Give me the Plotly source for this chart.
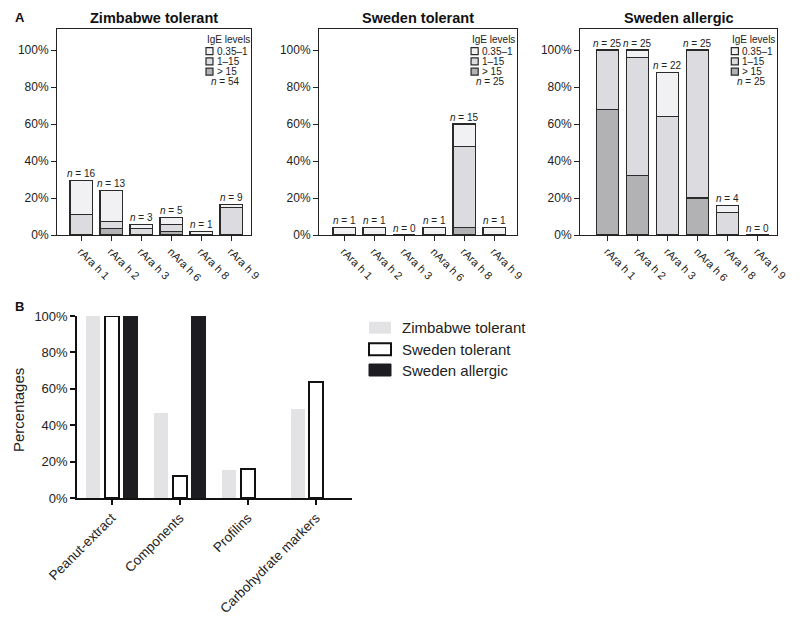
import plotly.graph_objects as go

FONT = "Arial, Liberation Sans, sans-serif"

# ---------------- Panel A data (percent of subjects) ----------------
allergens = ["rAra h 1", "rAra h 2", "rAra h 3", "nAra h 6", "rAra h 8", "rAra h 9"]
ige_levels = ["0.35–1", "1–15", "> 15"]

zim_high = [0, 3.7, 0, 1.9, 0, 0]
zim_mid = [11.1, 3.7, 3.7, 3.7, 0, 14.8]
zim_low = [18.5, 16.7, 1.9, 3.7, 1.9, 1.9]
zim_n = [16, 13, 3, 5, 1, 9]
zim_total_n = 54

swt_high = [0, 0, 0, 0, 4, 0]
swt_mid = [0, 0, 0, 0, 44, 0]
swt_low = [4, 4, 0, 4, 12, 4]
swt_n = [1, 1, 0, 1, 15, 1]
swt_total_n = 25

swa_high = [68, 32, 0, 20, 0, 0]
swa_mid = [32, 64, 64, 80, 12, 0]
swa_low = [0, 4, 24, 0, 4, 0]
swa_n = [25, 25, 22, 25, 4, 0]
swa_total_n = 25

pct_ticks = [0, 20, 40, 60, 80, 100]
pct_labels = ["0%", "20%", "40%", "60%", "80%", "100%"]

# ---------------- Panel B data ----------------
groups_b = ["Peanut-extract", "Components", "Profilins", "Carbohydrate markers"]
b_zim = [100, 46.5, 15.5, 49]
b_swt = [100, 12, 16, 64]
b_swa = [100, 100, 0, 0]
series_b = ["Zimbabwe tolerant", "Sweden tolerant", "Sweden allergic"]

# ---------------- styles ----------------
C_LOW = "#f1f1f3"
C_MID = "#dcdce0"
C_HIGH = "#b2b2b5"
EDGE = "#2a2a2a"

W, H = 800, 624

def px_x(a, b):
    return [a / W, b / W]

def px_y(top, bottom):
    return [1 - bottom / H, 1 - top / H]

panels = [
    ("Zimbabwe tolerant", zim_high, zim_mid, zim_low, zim_n, zim_total_n, px_x(57, 251), 24, 194),
    ("Sweden tolerant", swt_high, swt_mid, swt_low, swt_n, swt_total_n, px_x(319, 517), 25, 198),
    ("Sweden allergic", swa_high, swa_mid, swa_low, swa_n, swa_total_n, px_x(580, 777), 27.5, 197),
]

fig = go.Figure()
annotations = []
shapes = []
layout = {}

def txt(**kw):
    kw.setdefault("showarrow", False)
    kw.setdefault("xanchor", "center")
    kw.setdefault("yanchor", "middle")
    return kw

ydomA = px_y(29, 235)
for i, (title, hi, mid, lo, ns, ntot, xdom, lead, width) in enumerate(panels):
    k = "" if i == 0 else str(i + 1)
    xa, ya = "x" + k, "y" + k
    for vals, col in [(hi, C_HIGH), (mid, C_MID), (lo, C_LOW)]:
        fig.add_trace(go.Bar(
            x=allergens, y=vals, xaxis=xa, yaxis=ya, width=0.74,
            marker=dict(color=col, line=dict(color=EDGE, width=1.2)),
            showlegend=False, hoverinfo="skip"))
    # n labels above stacks
    for cat, a, b, c, n in zip(allergens, hi, mid, lo, ns):
        annotations.append(txt(
            x=cat, y=a + b + c, xref=xa, yref=ya, yshift=7,
            text=f"<i>n</i> = {n}", font=dict(size=10, color="#222", family=FONT)))
    unit = 30.0
    layout["xaxis" + k] = dict(
        domain=xdom, anchor=ya, type="category", automargin=False,
        range=[-lead / unit, -lead / unit + width / unit],
        showline=True, mirror=True, linecolor="#222", linewidth=1,
        ticks="outside", ticklen=5, tickcolor="#222", tickangle=45,
        tickfont=dict(size=11, color="#222", family=FONT), showgrid=False, zeroline=False)
    layout["yaxis" + k] = dict(
        domain=ydomA, anchor=xa, range=[0, 111.4], automargin=False,
        tickvals=pct_ticks, ticktext=pct_labels,
        showline=True, mirror=True, linecolor="#222", linewidth=1,
        ticks="outside", ticklen=5, tickcolor="#222",
        tickfont=dict(size=12, color="#222", family=FONT), showgrid=False, zeroline=False)
    # title
    annotations.append(txt(
        x=(xdom[0] + xdom[1]) / 2, y=1 - 18 / H, xref="paper", yref="paper",
        text=f"<b>{title}</b>", font=dict(size=14.5, color="#111", family=FONT)))
    # small IgE legend
    xd, yd = xa + " domain", ya + " domain"
    annotations.append(txt(x=0.762, y=0.951, xref=xd, yref=yd, xanchor="left",
                           text="IgE levels", font=dict(size=10, color="#222", family=FONT)))
    for lab, col, yc in [(ige_levels[0], C_LOW, 0.893), (ige_levels[1], C_MID, 0.843),
                         (ige_levels[2], C_HIGH, 0.793)]:
        shapes.append(dict(type="rect", xref=xd, yref=yd, x0=0.768, x1=0.804,
                           y0=yc - 0.017, y1=yc + 0.017, fillcolor=col,
                           line=dict(color=EDGE, width=1.2)))
        annotations.append(txt(x=0.812, y=yc, xref=xd, yref=yd, xanchor="left",
                               text=lab, font=dict(size=10, color="#222", family=FONT)))
    annotations.append(txt(x=0.785, y=0.745, xref=xd, yref=yd, xanchor="left",
                           text=f"<i>n</i> = {ntot}",
                           font=dict(size=10, color="#222", family=FONT)))

# ---------------- Panel B ----------------
b_styles = [
    (b_zim, dict(color="#e3e3e6", line=dict(width=0))),
    (b_swt, dict(color="#ffffff", line=dict(color="#111", width=2))),
    (b_swa, dict(color="#1d1c21", line=dict(color="#1d1c21", width=1))),
]
for name, (vals, mk) in zip(series_b, b_styles):
    fig.add_trace(go.Bar(x=groups_b, y=vals, name=name, xaxis="x4", yaxis="y4",
                         offsetgroup=name, marker=mk, showlegend=False, hoverinfo="skip"))

xdomB = px_x(77, 352)
ydomB = px_y(316, 498)
layout["xaxis4"] = dict(
    domain=xdomB, anchor="y4", type="category", range=[-0.51, 3.53], automargin=False,
    showline=True, linecolor="#111", linewidth=1.5,
    ticks="outside", ticklen=5, tickcolor="#111", tickwidth=1.5, tickangle=-45,
    tickfont=dict(size=13.5, color="#222", family=FONT), showgrid=False, zeroline=False)
layout["yaxis4"] = dict(
    domain=ydomB, anchor="x4", range=[0, 100], automargin=False,
    tickvals=pct_ticks, ticktext=pct_labels,
    showline=True, linecolor="#111", linewidth=1.5,
    ticks="outside", ticklen=5, tickcolor="#111", tickwidth=1.5,
    tickfont=dict(size=13, color="#222", family=FONT), showgrid=False, zeroline=False)

annotations.append(txt(x=18 / W, y=1 - 410 / H, xref="paper", yref="paper",
                       text="Percentages", textangle=-90,
                       font=dict(size=15, color="#222", family=FONT)))

# legend for panel B
for name, (vals, mk), yc in zip(series_b, b_styles, [327.7, 349.3, 370]):
    lw = mk["line"].get("width", 0)
    shapes.append(dict(type="rect", xref="paper", yref="paper",
                       x0=369 / W, x1=391 / W, y0=1 - (yc + 6) / H, y1=1 - (yc - 6) / H,
                       fillcolor=mk["color"],
                       line=dict(color=mk["line"].get("color", mk["color"]), width=lw)))
    annotations.append(txt(x=400 / W, y=1 - yc / H, xref="paper", yref="paper",
                           xanchor="left", text=name,
                           font=dict(size=15, color="#222", family=FONT)))

# panel letters
annotations.append(txt(x=20 / W, y=1 - 17 / H, xref="paper", yref="paper",
                       text="<b>A</b>", font=dict(size=13, color="#111", family=FONT)))
annotations.append(txt(x=19 / W, y=1 - 306 / H, xref="paper", yref="paper",
                       text="<b>B</b>", font=dict(size=13, color="#111", family=FONT)))

fig.update_layout(
    width=W, height=H, autosize=False, margin=dict(l=0, r=0, t=0, b=0, pad=0),
    paper_bgcolor="white", plot_bgcolor="white",
    barmode="stack", bargap=0.19, bargroupgap=0.24,
    annotations=annotations, shapes=shapes,
    font=dict(family=FONT, color="#222"),
    **layout)

fig.write_html("out.html", config={"displayModeBar": False},
               post_script="document.body.style.margin='0px';")
